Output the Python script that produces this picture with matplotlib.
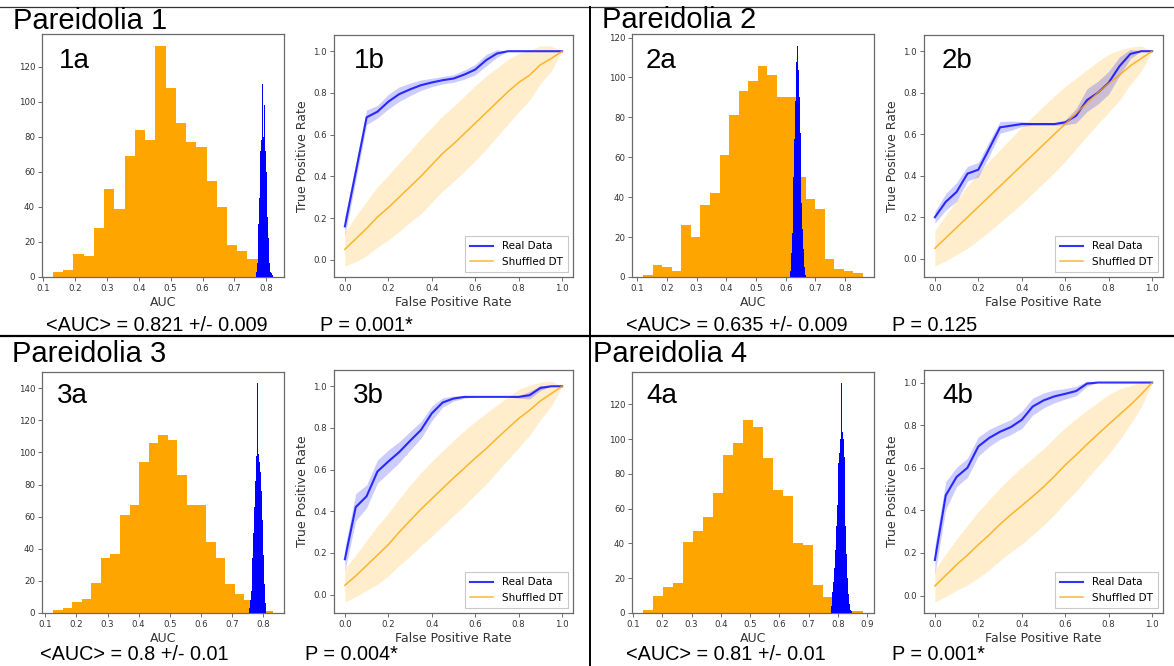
import numpy as np
import matplotlib
matplotlib.use("Agg")
import matplotlib.pyplot as plt
from matplotlib.lines import Line2D

# ---------------- DATA ----------------
# Histogram panels (a): orange = shuffled-label AUC distribution, blue = real-data AUC distribution
p1_orange_range = (0.131, 0.773)
p1_orange_counts = [3, 4, 13, 12, 28, 50, 39, 69, 84, 78, 132, 108, 88, 77, 74, 55, 40, 18, 15, 10]
p1_blue_range = (0.769, 0.821)
p1_blue_counts = [3, 8, 16, 30, 45, 60, 72, 78, 82, 110, 86, 80, 98, 106, 72, 60, 46, 34, 22, 13,
                  8, 5, 3, 2, 1, 1]

p2_orange_range = (0.120, 0.860)
p2_orange_counts = [1, 6, 5, 3, 26, 20, 36, 42, 61, 81, 93, 98, 106, 101, 90, 90, 50, 39, 34, 9, 4, 3, 2]
p2_blue_range = (0.614, 0.668)
p2_blue_counts = [3, 12, 22, 35, 50, 69, 88, 108, 116, 104, 90, 72, 52, 37, 24, 14, 5, 1]

p3_orange_range = (0.1246, 0.832)
p3_orange_counts = [2, 3, 7, 9, 19, 34, 37, 61, 67, 94, 106, 111, 108, 86, 67, 67, 44, 34, 18, 12, 8, 6, 1]
p3_blue_range = (0.754, 0.808)
p3_blue_counts = [3, 8, 14, 22, 34, 50, 66, 82, 98, 143, 99, 94, 88, 76, 58, 36, 18, 6]

p4_orange_range = (0.134, 0.886)
p4_orange_counts = [2, 10, 15, 17, 41, 47, 55, 69, 91, 98, 111, 107, 89, 71, 67, 40, 39, 16, 9, 3, 1, 1]
p4_blue_range = (0.775, 0.847)
p4_blue_counts = [1, 4, 12, 18, 26, 36, 50, 62, 74, 86, 92, 100, 132, 104, 100, 90, 66, 50, 34, 20,
                  11, 5, 2, 1]

# ROC panels (b)
fpr = [0.0, 0.05, 0.1, 0.15, 0.2, 0.25, 0.3, 0.35, 0.4, 0.45, 0.5,
       0.55, 0.6, 0.65, 0.7, 0.75, 0.8, 0.85, 0.9, 0.95, 1.0]

p1_real_tpr = [0.16, 0.42, 0.683, 0.71, 0.758, 0.794, 0.817, 0.837, 0.85, 0.861, 0.869,
               0.888, 0.912, 0.957, 0.989, 1.0, 1.0, 1.0, 1.0, 1.0, 1.0]
p1_real_std = [0.045, 0.04, 0.035, 0.03, 0.035, 0.035, 0.03, 0.025, 0.02, 0.018, 0.018,
               0.022, 0.025, 0.028, 0.018, 0.0, 0.0, 0.0, 0.0, 0.0, 0.0]
p1_shuf_tpr = [0.05, 0.10, 0.15, 0.205, 0.25, 0.30, 0.35, 0.40, 0.455, 0.51, 0.555,
               0.605, 0.655, 0.705, 0.755, 0.805, 0.85, 0.885, 0.935, 0.965, 1.0]
p1_shuf_std = [0.08, 0.11, 0.13, 0.145, 0.155, 0.165, 0.17, 0.18, 0.18, 0.18, 0.18,
               0.18, 0.18, 0.175, 0.165, 0.155, 0.14, 0.12, 0.09, 0.06, 0.0]

p2_real_tpr = [0.2, 0.274, 0.322, 0.41, 0.429, 0.53, 0.633, 0.641, 0.649, 0.649, 0.649,
               0.649, 0.657, 0.689, 0.764, 0.80, 0.848, 0.928, 0.987, 1.0, 1.0]
p2_real_std = [0.028, 0.04, 0.045, 0.035, 0.035, 0.035, 0.028, 0.022, 0.012, 0.006, 0.006,
               0.006, 0.012, 0.035, 0.055, 0.055, 0.055, 0.045, 0.022, 0.0, 0.0]
p2_shuf_tpr = [0.05, 0.10, 0.15, 0.20, 0.25, 0.30, 0.35, 0.40, 0.45, 0.50, 0.55,
               0.60, 0.65, 0.70, 0.75, 0.80, 0.845, 0.885, 0.93, 0.965, 1.0]
p2_shuf_std = [0.085, 0.11, 0.13, 0.15, 0.16, 0.17, 0.175, 0.18, 0.185, 0.185, 0.185,
               0.185, 0.18, 0.17, 0.16, 0.15, 0.14, 0.12, 0.09, 0.06, 0.0]

p3_real_tpr = [0.17, 0.42, 0.472, 0.591, 0.639, 0.684, 0.738, 0.79, 0.87, 0.922, 0.941,
               0.949, 0.949, 0.949, 0.949, 0.949, 0.949, 0.957, 0.992, 1.0, 1.0]
p3_real_std = [0.055, 0.065, 0.055, 0.055, 0.055, 0.05, 0.045, 0.04, 0.035, 0.022, 0.012,
               0.006, 0.0, 0.0, 0.0, 0.0, 0.006, 0.018, 0.012, 0.0, 0.0]
p3_shuf_tpr = [0.045, 0.09, 0.14, 0.19, 0.24, 0.30, 0.355, 0.41, 0.46, 0.51, 0.56,
               0.607, 0.655, 0.70, 0.75, 0.798, 0.845, 0.885, 0.93, 0.965, 1.0]
p3_shuf_std = [0.08, 0.10, 0.12, 0.14, 0.15, 0.16, 0.17, 0.175, 0.18, 0.18, 0.18,
               0.18, 0.175, 0.17, 0.16, 0.15, 0.14, 0.12, 0.09, 0.06, 0.0]

p4_real_tpr = [0.167, 0.47, 0.557, 0.60, 0.70, 0.74, 0.769, 0.791, 0.825, 0.887, 0.916,
               0.935, 0.947, 0.96, 0.995, 1.0, 1.0, 1.0, 1.0, 1.0, 1.0]
p4_real_std = [0.065, 0.065, 0.045, 0.045, 0.045, 0.04, 0.035, 0.035, 0.04, 0.04, 0.035,
               0.03, 0.025, 0.022, 0.012, 0.0, 0.0, 0.0, 0.0, 0.0, 0.0]
p4_shuf_tpr = [0.045, 0.095, 0.145, 0.19, 0.239, 0.285, 0.335, 0.38, 0.422, 0.465, 0.51,
               0.56, 0.613, 0.66, 0.71, 0.757, 0.804, 0.85, 0.895, 0.945, 1.0]
p4_shuf_std = [0.075, 0.10, 0.12, 0.14, 0.155, 0.165, 0.17, 0.175, 0.18, 0.18, 0.18,
               0.18, 0.175, 0.17, 0.16, 0.15, 0.14, 0.12, 0.09, 0.06, 0.0]

titles = ["Pareidolia 1", "Pareidolia 2", "Pareidolia 3", "Pareidolia 4"]
hist_labels = ["1a", "2a", "3a", "4a"]
roc_labels = ["1b", "2b", "3b", "4b"]
auc_texts = ["<AUC> = 0.821 +/- 0.009", "<AUC> = 0.635 +/- 0.009",
             "<AUC> = 0.8 +/- 0.01", "<AUC> = 0.81 +/- 0.01"]
p_texts = ["P = 0.001*", "P = 0.125", "P = 0.004*", "P = 0.001*"]
legend_labels = ["Real Data", "Shuffled DT"]

# ---------------- LAYOUT ----------------
W, H = 1174, 666
fig = plt.figure(figsize=(W / 100, H / 100), dpi=100)
fig.patch.set_facecolor("white")

BIG = ["Liberation Sans", "DejaVu Sans"]


def box(x0, y0, x1, y1):
    return [x0 / W, 1 - y1 / H, (x1 - x0) / W, (y1 - y0) / H]


def ftext(x, y, s, size):
    fig.text(x / W, 1 - y / H, s, fontsize=size, family=BIG, va="baseline", ha="left",
             color="black")


def style(ax):
    for sp in ax.spines.values():
        sp.set_color("#6a6a6a")
        sp.set_linewidth(0.9)
    ax.tick_params(labelsize=6.2, length=3, width=0.6, colors="#555555",
                   labelcolor="#333333", pad=2)


hist_boxes = [box(42, 34, 284, 277), box(632, 34, 874, 277),
              box(42, 372, 284, 613), box(632, 372, 874, 613)]
roc_boxes = [box(334, 35, 573, 277), box(924, 35, 1163, 277),
             box(334, 370, 573, 613), box(924, 370, 1163, 613)]

orange_sets = [(p1_orange_range, p1_orange_counts), (p2_orange_range, p2_orange_counts),
               (p3_orange_range, p3_orange_counts), (p4_orange_range, p4_orange_counts)]
blue_sets = [(p1_blue_range, p1_blue_counts), (p2_blue_range, p2_blue_counts),
             (p3_blue_range, p3_blue_counts), (p4_blue_range, p4_blue_counts)]
roc_sets = [(p1_real_tpr, p1_real_std, p1_shuf_tpr, p1_shuf_std),
            (p2_real_tpr, p2_real_std, p2_shuf_tpr, p2_shuf_std),
            (p3_real_tpr, p3_real_std, p3_shuf_tpr, p3_shuf_std),
            (p4_real_tpr, p4_real_std, p4_shuf_tpr, p4_shuf_std)]


def draw_hist(ax, rng, counts, color, z):
    counts = np.asarray(counts, dtype=float)
    edges = np.linspace(rng[0], rng[1], len(counts) + 1)
    centers = (edges[:-1] + edges[1:]) / 2
    ax.hist(centers, bins=edges, weights=counts, color=color, zorder=z, linewidth=0)


for i in range(4):
    ax = fig.add_axes(hist_boxes[i])
    (orng, ocnt), (brng, bcnt) = orange_sets[i], blue_sets[i]
    draw_hist(ax, orng, ocnt, "orange", 2)
    draw_hist(ax, brng, bcnt, "blue", 3)
    ax.set_xlabel("AUC", fontsize=9, labelpad=2, color="#333333")
    style(ax)

    ax2 = fig.add_axes(roc_boxes[i])
    rt, rs, st, ss = [np.asarray(v) for v in roc_sets[i]]
    x = np.asarray(fpr)
    ax2.fill_between(x, st - ss, st + ss, color="orange", alpha=0.2, linewidth=0)
    ax2.fill_between(x, rt - rs, rt + rs, color="blue", alpha=0.2, linewidth=0)
    ax2.plot(x, rt, color="blue", alpha=0.8, lw=1.5, label=legend_labels[0])
    ax2.plot(x, st, color="orange", alpha=0.8, lw=1.1, label=legend_labels[1])
    h, l = ax2.get_legend_handles_labels()
    leg = ax2.legend(h, l, loc="lower right", fontsize=7.5, frameon=True, fancybox=False,
                     borderpad=0.5, handlelength=2.2)
    leg.get_frame().set_edgecolor("#bbbbbb")
    leg.get_frame().set_linewidth(0.8)
    ax2.set_xlabel("False Positive Rate", fontsize=9, labelpad=2, color="#333333")
    ax2.set_ylabel("True Positive Rate", fontsize=9, labelpad=3, color="#333333")
    style(ax2)

# big texts
title_pos = [(12.7, 29.3), (601.7, 28.5), (11.7, 361.7), (593.3, 361.7)]
hl_pos = [(59, 68.3), (646, 68.3), (57, 403.3), (646.5, 403.3)]
rl_pos = [(354, 68.3), (941.7, 68.0), (352.7, 403.3), (942.7, 403.3)]
auc_pos = [(46.5, 331), (626, 331), (40, 660), (626, 660)]
p_pos = [(320, 331), (891.7, 331), (305, 660), (891.7, 660)]

for i in range(4):
    ftext(*title_pos[i], titles[i], 21)
    ftext(*hl_pos[i], hist_labels[i], 20)
    ftext(*rl_pos[i], roc_labels[i], 20)
    ftext(*auc_pos[i], auc_texts[i], 14.3)
    ftext(*p_pos[i], p_texts[i], 14.3)

# divider lines
fig.add_artist(Line2D([0, 1], [1 - 7 / H, 1 - 7 / H], transform=fig.transFigure,
                      color="#333333", lw=0.9))
fig.add_artist(Line2D([0, 1], [1 - 336 / H, 1 - 336 / H], transform=fig.transFigure,
                      color="black", lw=1.6))
fig.add_artist(Line2D([589.5 / W, 589.5 / W], [0, 1 - 7 / H], transform=fig.transFigure,
                      color="black", lw=1.4))

fig.savefig("out.png", dpi=100, facecolor="white")
